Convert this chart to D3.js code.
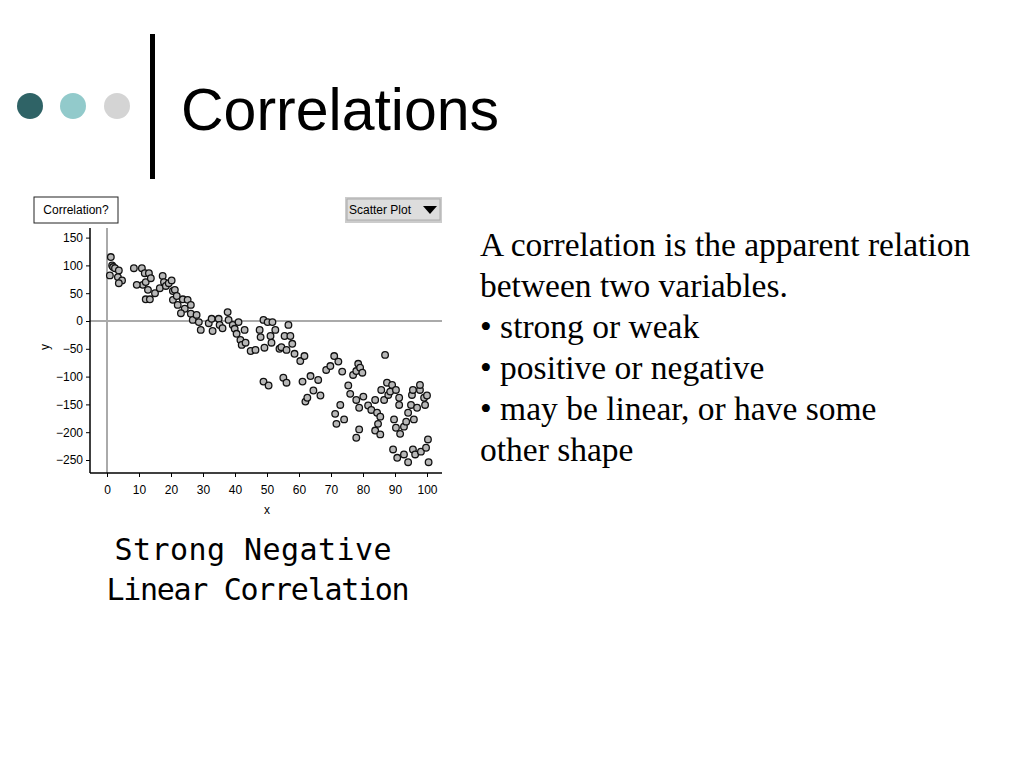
<!DOCTYPE html>
<html><head><meta charset="utf-8">
<script src="https://cdn.jsdelivr.net/npm/d3@7"></script>
<style>body{margin:0;background:#fff}</style></head>
<body><svg id="c" width="1024" height="768"></svg>
<script>
const xs=[1.2,1.6,1.9,0.9,2.5,3.7,3.4,4.7,3.7,8.4,10.9,11.2,9.3,11.8,12.1,13.1,13.7,12.8,12.1,13.4,15,17.4,17.8,16.5,18.4,19.3,20.2,20.6,21.2,20.6,21.8,22.1,23.7,24.3,23.1,25.2,26.2,26.2,26.8,28,28.7,29.3,31.8,32.7,33,34.9,35.2,36.1,37.7,38,39.3,39.9,40.5,41.1,41.7,42.1,43,43.3,44.9,46.4,47.7,48,48.9,49.2,50.2,51.1,51.4,51.7,52.6,53.9,54.5,55.5,56.1,56.7,57.3,57.9,48.9,50.5,55.1,56.1,58.6,60.4,61.7,61.1,62,62.6,63.6,64.5,66,66.7,68.5,69.8,71,72.3,73.5,71.3,71.7,72.9,74.1,75.4,76.9,77.9,78.5,79.1,79.8,76,77.9,78.8,77.9,78.8,80.1,81.6,82.6,83.8,84.4,84.7,85.4,85.7,86.6,86.9,87.5,87.9,88.5,89.1,90.3,91.3,91.3,89.7,90.3,91.6,92.8,93.5,94.1,95,95.3,95.9,96.9,97.8,99.1,99.4,100,89.4,90.7,92.8,94.1,95.6,96.3,98.1,99.7,100.5,100.3,95.6,97.8,83.8,85.4];
const ys=[115,100,97,82,95,91,79,73,68,95,95,65,65,86,70,86,77,56,39,39,50,81,70,59,63,68,73,54,56,38,45,29,39,22,14,38,29,13,2,11,-2,-16,-4,4,-18,4,-7,-13,16,2,-7,-14,-23,-2,-34,-43,-16,-39,-54,-52,-16,-29,2,-48,-2,-27,-39,-2,-16,-50,-47,-27,-52,-7,-27,-41,-109,-116,-102,-111,-59,-72,-63,-109,-145,-138,-99,-125,-106,-134,-88,-81,-63,-73,-91,-167,-185,-151,-177,-116,-97,-90,-77,-84,-93,-131,-142,-156,-210,-195,-136,-152,-160,-142,-165,-185,-172,-124,-142,-61,-111,-133,-127,-115,-124,-138,-151,-177,-192,-203,-190,-181,-165,-151,-133,-177,-156,-124,-138,-151,-134,-231,-246,-240,-254,-231,-240,-235,-228,-254,-213,-124,-115,-197,-204];
const xTicks=[0,10,20,30,40,50,60,70,80,90,100];
const yTicks=[150,100,50,0,-50,-100,-150,-200,-250];
const bullets=["A correlation is the apparent relation","between two variables.","• strong or weak","• positive or negative","• may be linear, or have some","other shape"];

const svg=d3.select("#c");
[["#2f6366",30],["#92cacb",73],["#d4d4d4",117]].forEach(([c,x])=>svg.append("circle").attr("cx",x).attr("cy",106).attr("r",13).attr("fill",c));
svg.append("rect").attr("x",150).attr("y",34).attr("width",5).attr("height",145).attr("fill","#000");
svg.append("text").attr("x",181).attr("y",130).attr("font-family","Liberation Sans, Arial").attr("font-size",59).text("Correlations");

const x=d3.scaleLinear().domain([0,100]).range([107,427]);
const y=d3.scaleLinear().domain([0,-250]).range([321,460]);
const g=svg.append("g").attr("font-family","Liberation Sans, Arial").attr("font-size",12);
g.append("line").attr("x1",x(0)).attr("x2",x(0)).attr("y1",228).attr("y2",473).attr("stroke","#aaa").attr("stroke-width",2);
g.append("line").attr("x1",90).attr("x2",442).attr("y1",y(0)).attr("y2",y(0)).attr("stroke","#aaa").attr("stroke-width",2);
const ya=g.append("g").attr("transform","translate(90,0)").call(d3.axisLeft(y).tickValues(yTicks).tickSize(4).tickSizeOuter(0));
ya.select(".domain").attr("d","M0,228V473").attr("stroke-width",1.5);
const xa=g.append("g").attr("transform","translate(0,473)").call(d3.axisBottom(x).tickValues(xTicks).tickSize(4).tickSizeOuter(0).tickPadding(8));
xa.select(".domain").attr("d","M90,0H442").attr("stroke-width",1.5);
g.selectAll(".tick text").attr("font-size",12).attr("fill","#000").attr("font-family","Liberation Sans, Arial");
g.append("text").attr("x",267).attr("y",514).attr("text-anchor","middle").text("x");
g.append("text").attr("transform","translate(49,347) rotate(-90)").attr("text-anchor","middle").text("y");
g.selectAll("circle.p").data(xs).join("circle").attr("class","p").attr("cx",d=>x(d)).attr("cy",(d,i)=>y(ys[i])).attr("r",3.3).attr("fill","#b8b8b8").attr("stroke","#111").attr("stroke-width",1.3);
g.append("rect").attr("x",34).attr("y",197).attr("width",84).attr("height",26).attr("fill","#fff").attr("stroke","#222");
g.append("text").attr("x",76).attr("y",214).attr("text-anchor","middle").attr("font-size",12).text("Correlation?");
g.append("rect").attr("x",345).attr("y",197).attr("width",97).attr("height",26).attr("fill","#ccc");
g.append("rect").attr("x",347).attr("y",199).attr("width",93).attr("height",21).attr("fill","#ddd").attr("stroke","#aaa");
g.append("text").attr("x",349).attr("y",214).attr("font-size",12).text("Scatter Plot");
g.append("path").attr("d","M423,206h14l-7,8z").attr("fill","#000");
svg.append("text").attr("x",253).attr("y",560).attr("text-anchor","middle").attr("font-family","DejaVu Sans Mono").attr("font-size",30).attr("textLength",277).text("Strong Negative");
svg.append("text").attr("x",258).attr("y",600).attr("text-anchor","middle").attr("font-family","DejaVu Sans Mono").attr("font-size",30).attr("textLength",303).text("Linear Correlation");
svg.append("g").selectAll("text").data(bullets).join("text").attr("x",480).attr("y",(d,i)=>256+i*41).attr("font-family","Liberation Serif, Times New Roman").attr("font-size",33.5).text(d=>d);
</script></body></html>
